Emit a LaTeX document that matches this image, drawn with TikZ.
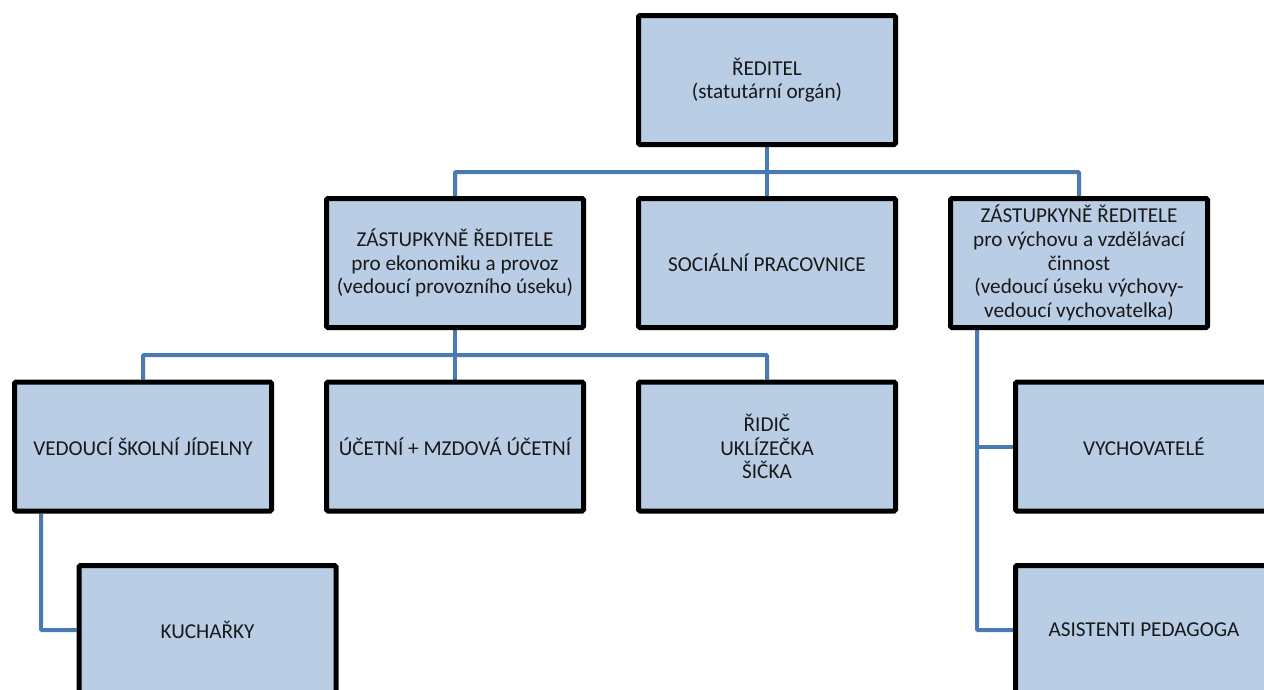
\documentclass[tikz,border=0pt]{standalone}
\usepackage{fontspec}
\setmainfont{Carlito}
\usetikzlibrary{backgrounds}
\definecolor{boxfill}{HTML}{B9CDE5}
\definecolor{connblue}{HTML}{4A7AB4}
\begin{document}
\begin{tikzpicture}[x=1pt,y=-1pt,
  box/.style={draw=black, line width=5pt, fill=boxfill, rounded corners=1.5pt,
    minimum width=257pt, minimum height=129pt, align=center, inner sep=2pt,
    text=black!90, font=\fontsize{21.2}{23.7}\selectfont},
  conn/.style={draw=connblue, line width=4pt, rounded corners=1pt}]
\useasboundingbox (0,0) rectangle (1264,689);
\clip (0,0) rectangle (1264,689);
\node[box] (dir) at (767,80) {ŘEDITEL\\(statutární orgán)};
\node[box] (zl) at (455,263) {ZÁSTUPKYNĚ ŘEDITELE\\pro ekonomiku a provoz\\(vedoucí provozního úseku)};
\node[box] (soc) at (767,263) {SOCIÁLNÍ PRACOVNICE};
\node[box] (zr) at (1079,263) {ZÁSTUPKYNĚ ŘEDITELE\\pro výchovu a vzdělávací\\činnost\\(vedoucí úseku výchovy-\\vedoucí vychovatelka)};
\node[box] (ved) at (143,446.5) {VEDOUCÍ ŠKOLNÍ JÍDELNY};
\node[box] (uct) at (455,446.5) {ÚČETNÍ + MZDOVÁ ÚČETNÍ};
\node[box] (rid) at (767,446.5) {ŘIDIČ\\UKLÍZEČKA\\ŠIČKA};
\node[box] (vych) at (1144,446.5) {VYCHOVATELÉ};
\node[box] (kuch) at (207.5,630) {KUCHAŘKY};
\node[box] (asist) at (1144,630) {ASISTENTI PEDAGOGA};
\coordinate (j1) at (767,172);
\coordinate (j2) at (455,355);
\begin{scope}[on background layer]
  \draw[conn] (dir.south) -- (soc.north);
  \draw[conn] (zl.north) |- (j1) -| (zr.north);
  \draw[conn] (zl.south) -- (uct.north);
  \draw[conn] (ved.north) |- (j2) -| (rid.north);
  \draw[conn] ([xshift=-102pt]ved.south) |- (kuch.west);
  \draw[conn] ([xshift=-102pt]zr.south) |- (asist.west);
  \draw[conn] ([xshift=-102pt]zr.south |- vych.west) -- (vych.west);
\end{scope}
\end{tikzpicture}
\end{document}
